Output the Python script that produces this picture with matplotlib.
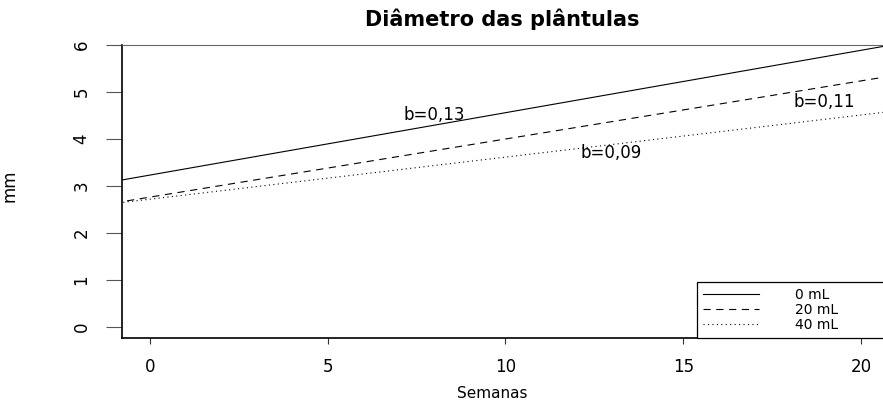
import matplotlib
matplotlib.use("Agg")
import matplotlib.pyplot as plt

# Data (weeks vs diameter in mm)
semanas = [-1, 21]
diam_0ml = [3.10, 6.02]
diam_20ml = [2.64, 5.36]
diam_40ml = [2.63, 4.60]

serie_labels = ["0 mL", "20 mL", "40 mL"]
slope_text = ["b=0,13", "b=0,11", "b=0,09"]
slope_pos = [(8.0, 4.51), (18.96, 4.79), (12.97, 3.70)]

x_ticks = [0, 5, 10, 15, 20]
y_ticks = [0, 1, 2, 3, 4, 5, 6]

plt.rcParams["font.family"] = ["DejaVu Sans"]

fig = plt.figure(figsize=(8.83, 4.03), dpi=100)
ax = fig.add_axes([0.1378, 0.1613, 0.8622, 0.727])

ax.plot(semanas, diam_0ml, color="black", lw=0.8, linestyle="-", label=serie_labels[0])
ax.plot(semanas, diam_20ml, color="black", lw=0.8, linestyle=(0, (6.5, 5)), label=serie_labels[1])
ax.plot(semanas, diam_40ml, color="black", lw=0.8, linestyle=(0, (1, 3)), label=serie_labels[2])

for txt, (tx, ty) in zip(slope_text, slope_pos):
    ax.text(tx, ty, txt, ha="center", va="center", fontsize=12)

ax.set_xlim(-0.796, 20.62)
ax.set_ylim(-0.234, 6.0)
ax.set_xticks(x_ticks)
ax.set_yticks(y_ticks)
ax.tick_params(axis="y", direction="out", length=11.5, width=0.8, color="#555555",
               labelsize=12, pad=11, labelrotation=90)
ax.tick_params(axis="x", direction="out", length=4.5, width=0.8, color="#333333",
               labelsize=12, pad=10)
for lab in ax.get_yticklabels():
    lab.set_va("center")

for s in ["left", "bottom"]:
    ax.spines[s].set_linewidth(1.2)
    ax.spines[s].set_color("black")
ax.spines["top"].set_linewidth(0.8)
ax.spines["top"].set_color("#666666")
ax.spines["right"].set_visible(False)

ax.set_title("Diâmetro das plântulas", fontsize=15, fontweight="bold", pad=14)
ax.set_xlabel("Semanas", fontsize=11)
ax.xaxis.set_label_coords(0.487, -0.165)
ax.xaxis.label.set_va("top")
ax.set_ylabel("mm", fontsize=12)
ax.yaxis.set_label_coords(-0.135, 0.52)

leg = ax.legend(loc="lower left", bbox_to_anchor=(0.756, 0.0, 0.3, 0.2), mode="expand",
                borderaxespad=0, fontsize=10, frameon=True, fancybox=False,
                edgecolor="black", framealpha=1, borderpad=0.45, labelspacing=0.05,
                handlelength=4.0, handletextpad=2.6)
leg.get_frame().set_linewidth(0.9)

fig.savefig("out.png", dpi=100)
